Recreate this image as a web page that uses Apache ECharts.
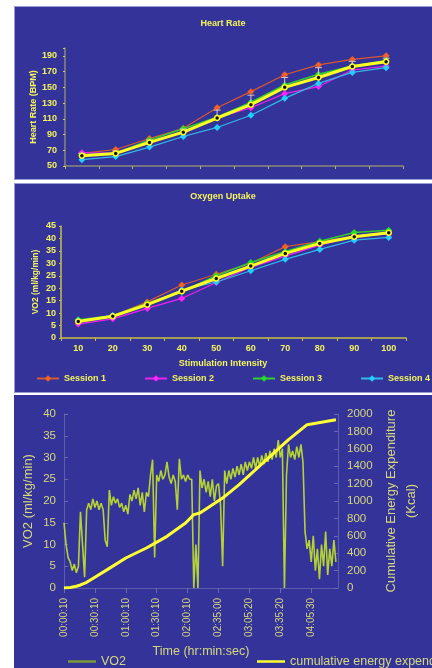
<!DOCTYPE html>
<html><head><meta charset="utf-8">
<script src="https://cdn.jsdelivr.net/npm/echarts@6/dist/echarts.min.js"></script>
<style>
html,body{margin:0;padding:0;background:#fff;width:432px;height:668px;overflow:hidden;}
.box{position:absolute;left:14px;width:418px;background:#333399;box-sizing:border-box;}
.ch{position:absolute;left:14px;width:418px;}
</style></head>
<body>
<div class="box" style="top:6px;height:174px;border-top:1px solid #9c9cd4;border-left:1px solid #9c9cd4;border-bottom:1px solid #9c9cd4;"></div>
<div class="box" style="top:183px;height:210px;border-top:1px solid #9c9cd4;border-left:1px solid #9c9cd4;border-bottom:1px solid #9c9cd4;"></div>
<div class="box" style="top:395px;height:273px;"></div>
<div id="c1" class="ch" style="top:7px;height:172px;"></div>
<div id="c2" class="ch" style="top:184px;height:209px;"></div>
<div id="c3" class="ch" style="top:395px;height:273px;"></div>
<script>
// ---------- data ----------
var intensity = ['10','20','30','40','50','60','70','80','90','100'];
var sessionNames = ['Session 1','Session 2','Session 3','Session 4'];

var hrS1 = [66, 71, 85, 98, 124, 144.5, 166, 178.5, 185.5, 190];
var hrS2 = [67, 66, 80, 94, 111, 124, 142, 151, 172, 177];
var hrS3 = [64, 66, 83, 97.5, 112, 131, 153, 166.5, 177, 184];
var hrS4 = [58, 62, 74, 87.5, 99, 114.5, 136, 155, 169, 175];
var hrMean = [63, 66, 80, 93, 111, 128, 150, 162.5, 176.5, 182.5];
var hrErrUp = [66, 69, 83, 97, 121, 140, 162.5, 175, 183, 187];

var voS1 = [6.4, 8.9, 14.5, 21.3, 25.6, 30, 36.7, 38.7, 40.7, 42.3];
var voS2 = [5.6, 7.7, 11.9, 15.9, 22.3, 28.4, 32.9, 37.3, 41.1, 41.7];
var voS3 = [7.3, 8.9, 14, 18.5, 25, 30.3, 34.7, 38.9, 42.4, 43.3];
var voS4 = [7.0, 9.0, 13.4, 19.3, 22.5, 27, 31.6, 35.6, 39.3, 40.4];
var voMean = [6.6, 8.7, 13.4, 18.8, 23.9, 28.9, 34, 38, 40.7, 42.3];

var timeLabels = ['00:00:10','00:30:10','01:00:10','01:30:10','02:00:10','02:35:00','03:05:20','03:35:20','04:05:30'];
var samplesPerLabel = 15;
var vo2Trace = [15,10,7,6,4,5.5,3.5,5,17.5,10,
  2.5,18,19.5,18,20.5,18.5,20,18,19.5,18,
  11,9.5,22.5,19,21,19.5,20.5,18.5,19.5,17.5,
  19,17,21.5,20,22.5,20.5,23,19,22,17.5,
  22,21,26,29.5,7,26,24.5,27,25,26,
  29,25.5,24,26,24.5,18,29.7,25,26,24.5,
  26,25,25,0,10,0,27,23,25,22,
  24.5,21,25,20,23.5,24,19,5,27,24,
  27,25,27.5,25.5,28,26,28.5,26,29,27,
  29,27.5,30,27.5,30,28,30.5,28.5,31,29,
  31.5,29.5,32,30,34,30,32,0,26,33,
  30,31.5,29.5,32.5,30,33,29,13,9,11,
  6,12,4,9,2,10,5,13,3,9,
  5,11,6];
var energyIdx = [0, 3, 6, 8, 11, 14, 21, 30, 40, 50, 59, 63, 66, 77, 85, 93, 101, 109, 118, 132];
var energyVal = [0, 5, 20, 35, 65, 110, 211, 345, 460, 594, 747, 843, 862, 1034, 1188, 1360, 1533, 1705, 1877, 1935];

// ---------- styles ----------
var FF = '"Liberation Sans", Arial, sans-serif';
var YEL = '#f4f45c';
var colors = ['#f2602a', '#ff22ff', '#22dd22', '#22ccff'];
var lineColors = ['#d9582e', '#ee22ee', '#33cc33', '#33b8e8'];

function sessionSeries(names, arrs) {
  return arrs.map(function (d, k) {
    return {
      name: names[k], type: 'line', data: d, symbol: 'diamond', symbolSize: 7,
      itemStyle: { color: colors[k] }, lineStyle: { color: lineColors[k], width: k === 2 ? 1.6 : 1.2 },
      z: 2
    };
  });
}
function meanSeries(d) {
  return {
    name: 'Mean', type: 'line', data: d, symbol: 'circle', symbolSize: 5,
    itemStyle: { color: '#111', borderColor: '#ffff22', borderWidth: 1.5 },
    lineStyle: { color: '#ffff22', width: 3 }, z: 5
  };
}
var axisGray = '#8a8a78';

// ---------- chart 1 ----------
var c1 = echarts.init(document.getElementById('c1'), null, { renderer: 'canvas' });
var s1 = sessionSeries(sessionNames, [hrS1, hrS2, hrS3, hrS4]);
s1.push({
  type: 'custom', z: 4,
  data: hrMean.map(function (m, i) { return [i, m, hrErrUp[i]]; }),
  encode: { x: 0, y: [1, 2] },
  renderItem: function (params, api) {
    var p0 = api.coord([api.value(0), api.value(1)]);
    var p1 = api.coord([api.value(0), api.value(2)]);
    var st = { stroke: '#d4c4c8', lineWidth: 1 };
    return { type: 'group', children: [
      { type: 'line', shape: { x1: p0[0], y1: p0[1], x2: p1[0], y2: p1[1] }, style: st },
      { type: 'line', shape: { x1: p1[0] - 3.5, y1: p1[1], x2: p1[0] + 3.5, y2: p1[1] }, style: st }
    ] };
  }
});
s1.push(meanSeries(hrMean));
c1.setOption({
  animation: false,
  textStyle: { fontFamily: FF },
  title: { text: 'Heart Rate', left: 'center', top: 7, textStyle: { color: YEL, fontSize: 9, fontWeight: 'bold', fontFamily: FF } },
  grid: { left: 51, right: 29, top: 41, bottom: 13 },
  xAxis: {
    type: 'category', data: intensity, boundaryGap: true,
    axisLine: { lineStyle: { color: axisGray, width: 1.5 } },
    axisTick: { show: true, length: 3, lineStyle: { color: '#b0b060' } },
    axisLabel: { show: false }
  },
  yAxis: {
    type: 'value', min: 50, max: 200, interval: 20,
    name: 'Heart Rate (BPM)', nameLocation: 'middle', nameGap: 27, nameMoveOverlap: false,
    nameTextStyle: { color: YEL, fontSize: 9, fontWeight: 'bold', fontFamily: FF },
    axisLine: { show: true, lineStyle: { color: axisGray, width: 1.5 } },
    axisTick: { show: true, length: 2, lineStyle: { color: '#d0d040' } },
    axisLabel: { color: YEL, fontSize: 9, fontWeight: 'bold', margin: 8, fontFamily: FF,
      formatter: function (v) { return ((v - 50) % 20 === 0 && v < 200) ? String(v) : ''; } },
    splitLine: { show: false }
  },
  series: s1
});

// ---------- chart 2 ----------
var c2 = echarts.init(document.getElementById('c2'), null, { renderer: 'canvas' });
var s2 = sessionSeries(sessionNames, [voS1, voS2, voS3, voS4]);
s2.push(meanSeries(voMean));
c2.setOption({
  animation: false,
  textStyle: { fontFamily: FF },
  title: [
    { text: 'Oxygen Uptake', left: 'center', top: 3, textStyle: { color: YEL, fontSize: 9, fontWeight: 'bold', fontFamily: FF } },
    { text: 'Stimulation Intensity', left: 'center', top: 170, textStyle: { color: YEL, fontSize: 9, fontWeight: 'bold', fontFamily: FF } }
  ],
  legend: {
    data: sessionNames, left: 22, top: 190, width: 1000, padding: 0,
    itemWidth: 22, itemHeight: 8, itemGap: 38,
    textStyle: { color: YEL, fontSize: 9, fontWeight: 'bold', fontFamily: FF }
  },
  grid: { left: 47, right: 26, top: 42, bottom: 55 },
  xAxis: {
    type: 'category', data: intensity, boundaryGap: true,
    axisLine: { lineStyle: { color: '#c8c040', width: 1.5 } },
    axisTick: { show: true, length: 3, lineStyle: { color: '#c8c040' } },
    axisLabel: { color: YEL, fontSize: 9, fontWeight: 'bold', margin: 6, fontFamily: FF }
  },
  yAxis: {
    type: 'value', min: 0, max: 45, interval: 5,
    name: 'VO2 (ml/kg/min)', nameLocation: 'middle', nameGap: 21, nameMoveOverlap: false,
    nameTextStyle: { color: YEL, fontSize: 8.5, fontWeight: 'bold', fontFamily: FF },
    axisLine: { show: true, lineStyle: { color: '#c8c040', width: 1.5 } },
    axisTick: { show: true, length: 2, lineStyle: { color: '#c8c040' } },
    axisLabel: { color: YEL, fontSize: 9, fontWeight: 'bold', margin: 5, fontFamily: FF },
    splitLine: { show: false }
  },
  series: s2
});

// ---------- chart 3 ----------
var c3 = echarts.init(document.getElementById('c3'), null, { renderer: 'canvas' });
var LBL = '#d6d87c';
var maxIdx = vo2Trace.length;
c3.setOption({
  animation: false,
  textStyle: { fontFamily: FF },
  legend: {
    data: [{ name: 'VO2', icon: 'rect', itemStyle: { color: '#7e9c36' } },
           { name: 'cumulative energy expenditure', icon: 'rect', itemStyle: { color: '#ffff33' } }],
    left: 54, top: 260, width: 1000, padding: 0, itemWidth: 28, itemGap: 131, itemHeight: 2.5,
    textStyle: { color: LBL, fontSize: 12.5, fontFamily: FF }
  },
  grid: { left: 50, right: 94, top: 19, bottom: 80 },
  xAxis: {
    type: 'value', min: 0, max: maxIdx, interval: samplesPerLabel,
    name: 'Time (hr:min:sec)', nameLocation: 'middle', nameGap: 51,
    nameTextStyle: { color: LBL, fontSize: 12.5, fontFamily: FF },
    axisLine: { show: true, lineStyle: { color: '#5c5ca8' } },
    axisTick: { show: true, length: 5, lineStyle: { color: '#6a6ab0' } },
    axisLabel: { rotate: 90, color: LBL, fontSize: 10, margin: 10, fontFamily: FF, showMaxLabel: false,
      formatter: function (v) { var k = v / samplesPerLabel; return (k === Math.round(k) && timeLabels[k]) ? timeLabels[k] : ''; } },
    splitLine: { show: false }
  },
  yAxis: [{
    type: 'value', min: 0, max: 40, interval: 5, position: 'left',
    name: 'VO2 (ml/kg/min)', nameLocation: 'middle', nameGap: 29, nameMoveOverlap: false,
    nameTextStyle: { color: LBL, fontSize: 13, fontFamily: FF },
    axisLine: { show: true, lineStyle: { color: '#5c5ca8' } },
    axisTick: { show: true, inside: true, length: 4, lineStyle: { color: '#6a6ab0' } },
    axisLabel: { color: LBL, fontSize: 11.5, margin: 8, fontFamily: FF },
    splitLine: { show: false }
  }, {
    type: 'value', min: 0, max: 2000, interval: 200, position: 'right',
    name: 'Cumulative Energy Expenditure\n(Kcal)', nameLocation: 'middle', nameGap: 43, nameMoveOverlap: false,
    nameTextStyle: { color: LBL, fontSize: 13, lineHeight: 20, fontFamily: FF },
    axisLine: { show: true, lineStyle: { color: '#5c5ca8' } },
    axisTick: { show: true, inside: true, length: 4, lineStyle: { color: '#6a6ab0' } },
    axisLabel: { color: LBL, fontSize: 11.5, margin: 9, fontFamily: FF,
      formatter: function (v) { return String(v); } },
    splitLine: { show: false }
  }],
  series: [{
    name: 'VO2', type: 'line', yAxisIndex: 0, symbol: 'none',
    data: vo2Trace.map(function (v, i) { return [i, v]; }),
    itemStyle: { color: '#7e9c36' },
    lineStyle: { color: '#b4d232', width: 1.6 }, z: 2
  }, {
    name: 'cumulative energy expenditure', type: 'line', yAxisIndex: 1, symbol: 'none',
    data: energyIdx.map(function (x, i) { return [x, energyVal[i]]; }),
    itemStyle: { color: '#ffff33' },
    lineStyle: { color: '#ffff33', width: 3 }, z: 3
  }]
});
</script>
</body></html>
